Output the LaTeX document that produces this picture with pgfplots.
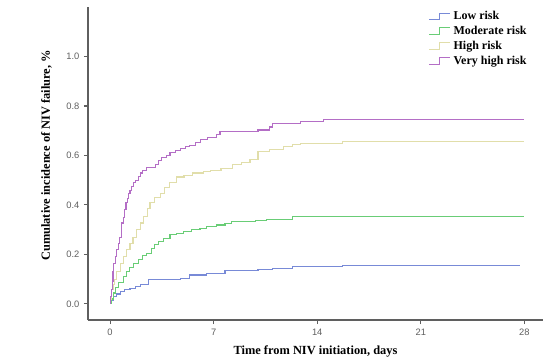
\documentclass[border=0pt]{standalone}
\usepackage{pgfplots}
\pgfplotsset{compat=1.18}
\usepackage{fontspec}
\setmainfont{Liberation Serif}
\setsansfont{Liberation Sans}
\definecolor{clow}{RGB}{120,138,215}
\definecolor{cmod}{RGB}{105,205,118}
\definecolor{chigh}{RGB}{225,222,170}
\definecolor{cvhigh}{RGB}{180,110,198}
\definecolor{axgray}{RGB}{95,95,95}
\begin{document}
\begin{tikzpicture}
\begin{axis}[
  scale only axis,
  width=341.25pt, height=234.75pt,
  xmin=-1.49, xmax=29.26,
  ymin=-0.065, ymax=1.2,
  axis x line*=bottom, axis y line*=left,
  axis line style={axgray, line width=1pt, -},
  xtick={0,7,14,21,28},
  ytick={0,0.2,0.4,0.6,0.8,1.0},
  tick align=outside,
  major tick length=3pt,
  tick style={axgray, line width=0.8pt},
  yticklabel style={/pgf/number format/.cd, fixed, fixed zerofill, precision=1},
  /pgf/number format/assume math mode=true,
  ticklabel style={font=\sffamily\fontsize{7}{8}\selectfont, text=axgray},
  xlabel={\textbf{Time from NIV initiation, days}},
  ylabel={\textbf{Cumulative incidence of NIV failure, \%}},
  label style={font=\fontsize{9.3}{11}\selectfont},
  xlabel style={yshift=-1pt},
  ylabel style={yshift=4pt, xshift=6pt},
  clip=false,
  legend style={at={(0.745,1.0)}, anchor=north west, draw=none, fill=none,
    font=\bfseries\fontsize{9}{10}\selectfont, row sep=-0.6pt, inner sep=1pt},
  legend cell align=left,
  legend image code/.code={\draw[#1] (0pt,-2.5pt) -- (8pt,-2.5pt) -- (8pt,2.5pt) -- (16pt,2.5pt);},
  every axis plot/.append style={const plot, line width=0.8pt, mark=none},
]
\addplot[clow] coordinates {
(0,0) (0.1,0.015) (0.22,0.03) (0.45,0.04) (0.68,0.05) (1.0,0.057) (1.35,0.063)
(1.7,0.07) (2.03,0.077) (2.59,0.097) (4.73,0.104) (5.4,0.117) (6.53,0.124)
(7.77,0.135) (10.0,0.14) (11.0,0.145) (12.3,0.151) (15.7,0.155) (27.7,0.155)};
\addlegendentry{Low risk}
\addplot[cmod] coordinates {
(0,0) (0.1,0.02) (0.22,0.044) (0.4,0.065) (0.6,0.085) (0.9,0.11) (1.1,0.13)
(1.3,0.148) (1.57,0.165) (1.9,0.18) (2.2,0.195) (2.48,0.205) (2.8,0.225)
(3.0,0.24) (3.27,0.252) (3.6,0.265) (4.05,0.279) (4.5,0.285) (4.95,0.292)
(5.5,0.30) (6.08,0.306) (6.5,0.312) (7.2,0.319) (7.77,0.326) (8.2,0.333)
(9.8,0.337) (10.6,0.342) (12.3,0.353) (28,0.353)};
\addlegendentry{Moderate risk}
\addplot[chigh] coordinates {
(0,0) (0.05,0.02) (0.11,0.057) (0.2,0.08) (0.3,0.10) (0.45,0.13) (0.68,0.165)
(0.9,0.19) (1.1,0.22) (1.35,0.246) (1.55,0.27) (1.8,0.30) (2.03,0.327)
(2.25,0.355) (2.5,0.385) (2.7,0.408) (3.0,0.43) (3.38,0.448) (3.7,0.47)
(4.0,0.49) (4.5,0.513) (5.0,0.52) (5.6,0.529) (6.3,0.535) (6.8,0.54)
(7.5,0.547) (8.3,0.562) (8.9,0.57) (9.46,0.582) (10.0,0.615) (10.8,0.625)
(11.7,0.636) (12.3,0.645) (12.84,0.648) (15.7,0.656) (28,0.656)};
\addlegendentry{High risk}
\addplot[cvhigh] coordinates {
(0,0) (0.05,0.03) (0.1,0.06) (0.15,0.09) (0.2,0.13) (0.25,0.165) (0.35,0.19)
(0.45,0.22) (0.55,0.246) (0.65,0.27) (0.75,0.30) (0.8,0.327) (0.9,0.35)
(1.0,0.38) (1.08,0.408) (1.15,0.425) (1.24,0.448) (1.35,0.46) (1.45,0.475)
(1.57,0.489) (1.75,0.50) (1.9,0.515) (2.03,0.529) (2.2,0.54) (2.48,0.553)
(3.1,0.565) (3.3,0.578) (3.49,0.59) (3.8,0.60) (4.05,0.611) (4.4,0.62)
(4.73,0.629) (5.1,0.635) (5.4,0.642) (5.8,0.652) (6.1,0.663) (6.6,0.672)
(7.2,0.683) (7.43,0.696) (10.0,0.703) (10.8,0.715) (11.0,0.73) (12.9,0.737)
(14.4,0.745) (28,0.745)};
\addlegendentry{Very high risk}
\end{axis}
\path ([shift={(-66pt,-33pt)}]current axis.south west) rectangle ([shift={(10.5pt,5.25pt)}]current axis.north east);
\end{tikzpicture}
\end{document}
